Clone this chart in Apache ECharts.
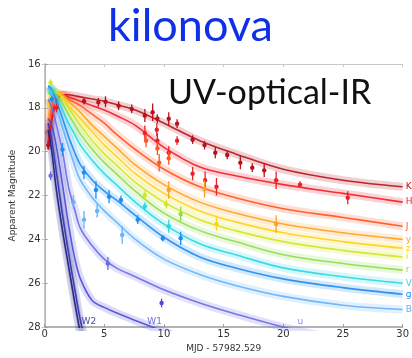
<!DOCTYPE html>
<html>
<head>
<meta charset="utf-8">
<script src="https://cdn.jsdelivr.net/npm/echarts@6/dist/echarts.min.js"></script>
<style>
  html, body { margin: 0; padding: 0; background: #fff; }
  #chart { width: 412px; height: 358px; }
</style>
</head>
<body>
<div id="chart"></div>
<script>
// days since merger (MJD - 57982.529)
const days = [0.3, 0.6, 1, 1.5, 2, 2.5, 3, 4, 5, 6, 7.6, 10, 13, 16, 20, 25, 30];

// model light curves, apparent magnitude per band
const magK  = [19.9, 18.6, 17.7, 17.4, 17.4, 17.45, 17.5, 17.6, 17.7, 17.85, 18.1, 18.7, 19.5, 20.1, 20.8, 21.3, 21.6];
const magH  = [19.6, 18.4, 17.6, 17.4, 17.5, 17.6, 17.7, 17.9, 18.1, 18.35, 18.8, 19.8, 20.7, 21.1, 21.5, 21.9, 22.3];
const magJ  = [19.2, 18.0, 17.4, 17.4, 17.6, 17.75, 17.9, 18.3, 18.7, 19.2, 19.9, 20.8, 21.6, 22.1, 22.6, 23.0, 23.4];
const magY  = [18.6, 17.6, 17.3, 17.4, 17.7, 17.95, 18.2, 18.8, 19.3, 19.8, 20.6, 21.5, 22.3, 22.8, 23.3, 23.7, 24.0];
const magZ  = [18.0, 17.3, 17.3, 17.5, 17.9, 18.2, 18.5, 19.1, 19.7, 20.2, 21.0, 21.9, 22.7, 23.2, 23.7, 24.1, 24.4];
const magI  = [17.4, 17.2, 17.3, 17.6, 18.0, 18.4, 18.8, 19.5, 20.1, 20.6, 21.4, 22.3, 23.1, 23.6, 24.1, 24.5, 24.8];
const magR  = [17.1, 17.1, 17.4, 17.8, 18.3, 18.75, 19.2, 19.9, 20.5, 21.0, 21.8, 22.8, 23.6, 24.1, 24.7, 25.1, 25.4];
const magV  = [17.0, 17.1, 17.5, 18.1, 18.7, 19.2, 19.7, 20.4, 21.0, 21.5, 22.3, 23.3, 24.2, 24.7, 25.3, 25.7, 26.0];
const magG  = [17.0, 17.2, 17.7, 18.5, 19.3, 20.0, 20.6, 21.3, 21.8, 22.2, 22.9, 23.9, 24.8, 25.3, 25.8, 26.2, 26.5];
const magB  = [17.1, 17.4, 18.0, 18.9, 19.8, 20.6, 21.3, 22.1, 22.7, 23.2, 24.0, 24.9, 25.6, 26.1, 26.6, 27.0, 27.2];
const magU  = [17.6, 18.0, 18.8, 20.0, 21.6, 22.6, 23.5, 24.3, 24.9, 25.3, 25.7, 26.3, 26.9, 27.4, 28.0, 28.6, 29.2];
const magW1 = [18.5, 18.8, 19.8, 21.5, 23.3, 24.8, 25.8, 26.8, 27.1, 27.35, 27.7, 28.2, 28.8, 29.3, null, null, null];
const magM2 = [18.7, 19.5, 21.0, 22.9, 24.6, 26.2, 27.7, 30.0, null, null, null, null, null, null, null, null, null];
const magW2 = [19.0, 20.0, 21.8, 23.6, 25.2, 26.8, 28.3, 31.0, null, null, null, null, null, null, null, null, null];

const bandNames  = ['K', 'H', 'J', 'y', 'z', 'i', 'r', 'V', 'g', 'B', 'u', 'W1', 'M2', 'W2'];
const bandColors = ['#b8121c', '#ee1f28', '#ff5520', '#ffa024', '#ffd01c', '#d2e624', '#8fdc4c',
                    '#2ed6e2', '#1e8cf0', '#64b2f8', '#6a6ae8', '#4a4ad6', '#3232b0', '#1c1c7e'];
const bandMags   = [magK, magH, magJ, magY, magZ, magI, magR, magV, magG, magB, magU, magW1, magM2, magW2];

// observed photometry: day, magnitude, error, band index
const obsDays = [0.3, 3.3, 4.5, 5.1, 6.2, 7.3, 8.4, 9.05, 9.45, 10.4, 11.1, 12.4, 13.4, 14.3, 15.3, 16.4, 17.4, 18.4,
                 1.0, 8.4, 9.4, 9.45, 10.4, 11.1, 12.4, 13.45, 14.4, 19.4, 21.4, 25.4,
                 8.5, 9.45, 9.6, 10.4,
                 10.4, 13.4, 19.4,
                 14.4, 0.5, 8.4, 10.2, 11.4,
                 0.5, 8.4, 10.4,
                 0.6, 1.5, 3.3, 4.3, 5.4, 6.4, 7.8, 9.9, 11.4,
                 2.4, 3.3, 4.4, 6.5,
                 0.5, 5.3, 9.8];
const obsMags = [19.7, 17.7, 17.75, 17.72, 17.9, 18.05, 18.35, 18.2, 18.5, 18.5, 18.72, 19.45, 19.7, 20.05, 20.15, 20.5, 20.73, 20.85,
                 18.0, 19.15, 19.0, 19.5, 20.05, 19.5, 21.0, 21.3, 21.6, 21.3, 21.5, 22.1,
                 19.5, 19.85, 20.5, 20.3,
                 21.75, 21.7, 23.3,
                 23.3, 16.85, 21.98, 22.4, 22.85,
                 17.3, 22.5, 23.4,
                 17.6, 19.9, 20.95, 21.75, 22.05, 22.2, 23.1, 23.95, 23.95,
                 22.3, 23.1, 22.7, 23.8,
                 21.1, 25.1, 26.9];
const obsErrs = [0.2, 0.15, 0.2, 0.25, 0.2, 0.2, 0.3, 0.4, 0.2, 0.3, 0.2, 0.2, 0.2, 0.25, 0.2, 0.3, 0.2, 0.3,
                 0.2, 0.35, 0.3, 0.35, 0.3, 0.2, 0.3, 0.4, 0.4, 0.4, 0.15, 0.3,
                 0.3, 0.3, 0.4, 0.3,
                 0.4, 0.4, 0.4,
                 0.3, 0.15, 0.2, 0.2, 0.35,
                 0.15, 0.2, 0.3,
                 0.15, 0.3, 0.3, 0.4, 0.3, 0.2, 0.2, 0.15, 0.3,
                 0.3, 0.4, 0.3, 0.4,
                 0.2, 0.3, 0.2];
const obsBand = [0, 0, 0, 0, 0, 0, 0, 0, 0, 0, 0, 0, 0, 0, 0, 0, 0, 0,
                 1, 1, 1, 1, 1, 1, 1, 1, 1, 1, 1, 1,
                 2, 2, 2, 2,
                 3, 3, 3,
                 4, 5, 5, 5, 6,
                 7, 7, 7,
                 8, 8, 8, 8, 8, 8, 8, 8, 8,
                 9, 9, 9, 9,
                 10, 10, 11];

// filter tags written at the bottom of the plot
const tagNames = ['W2', 'W1', 'u'];
const tagDays  = [3.1, 8.6, 21.2];
const tagMags  = [27.75, 27.75, 27.75];
const tagBand  = [13, 11, 10];

const chart = echarts.init(document.getElementById('chart'));

const series = [];
bandNames.forEach((name, b) => {
  const pts = days.map((d, i) => [d, bandMags[b][i]]);
  // model spread
  series.push({
    type: 'line', data: pts, smooth: 0.35, symbol: 'none',
    silent: true, z: 2,
    lineStyle: { color: bandColors[b], width: 8, opacity: 0.2 }
  });
  // best model
  series.push({
    name: name, type: 'line', data: pts, smooth: 0.35, symbol: 'none',
    silent: true, z: 3,
    lineStyle: { color: bandColors[b], width: 1.6, opacity: 0.9 },
    endLabel: b < 10 ? {
      show: true, formatter: name, color: bandColors[b], fontSize: 9,
      fontFamily: 'DejaVu Sans', distance: 3
    } : { show: false }
  });
});

// error bars + dots
series.push({
  type: 'custom', clip: true, z: 5,
  data: obsDays.map((d, i) => [d, obsMags[i], obsErrs[i], obsBand[i]]),
  renderItem: function (params, api) {
    const d = api.value(0), m = api.value(1), e = api.value(2);
    const col = bandColors[api.value(3)];
    const top = api.coord([d, m - e]);
    const bot = api.coord([d, m + e]);
    const c = api.coord([d, m]);
    return {
      type: 'group',
      children: [
        { type: 'line', shape: { x1: top[0], y1: top[1], x2: bot[0], y2: bot[1] },
          style: { stroke: col, lineWidth: 1.3 } },
        { type: 'circle', shape: { cx: c[0], cy: c[1], r: 2.2 }, style: { fill: col } }
      ]
    };
  }
});

series.push({
  type: 'scatter', symbolSize: 0, z: 6, silent: true,
  data: tagDays.map((d, i) => ({
    value: [d, tagMags[i]],
    label: { color: bandColors[tagBand[i]] }
  })),
  label: {
    show: true, position: 'right', distance: 0,
    fontSize: 9, fontFamily: 'DejaVu Sans',
    formatter: p => tagNames[p.dataIndex]
  }
});

const axisGrey = '#9a9a9a';
const option = {
  animation: false,
  grid: { left: 37, right: 7, top: 64, bottom: 25 },
  graphic: [
    { type: 'text', left: 108, top: 4,
      style: { text: 'kilonova', fill: '#1030e8', font: '45px Lato' } },
    { type: 'text', left: 168, top: 76, z: 10,
      style: { text: 'UV-optical-IR', fill: '#111', font: '34px Lato' } }
  ],
  xAxis: [
    {
      type: 'value', min: 0, max: 30, interval: 5,
      name: 'MJD - 57982.529', nameLocation: 'middle', nameGap: 15,
      nameTextStyle: { fontSize: 9, color: '#333', fontFamily: 'DejaVu Sans' },
      axisLine: { lineStyle: { color: axisGrey, width: 1.5 } },
      axisTick: { inside: true, length: 3, lineStyle: { color: axisGrey } },
      axisLabel: { fontSize: 10, color: '#333', margin: 2, fontFamily: 'DejaVu Sans' },
      splitLine: { show: false }
    },
    {
      type: 'value', min: 0, max: 30, interval: 5, position: 'top',
      axisLine: { show: true, lineStyle: { color: '#c8c8c8' } },
      axisTick: { inside: true, length: 3, lineStyle: { color: '#c8c8c8' } },
      axisLabel: { show: false }, splitLine: { show: false }
    }
  ],
  yAxis: [
    {
      type: 'value', min: 16, max: 28, interval: 2, inverse: true,
      name: 'Apparent Magnitude', nameLocation: 'middle', nameGap: 21,
      nameTextStyle: { fontSize: 9, color: '#333', fontFamily: 'DejaVu Sans' },
      axisLine: { show: true, lineStyle: { color: axisGrey, width: 1.5 } },
      axisTick: { show: true, inside: true, length: 3, lineStyle: { color: axisGrey } },
      axisLabel: { fontSize: 10, color: '#333', margin: 4, fontFamily: 'DejaVu Sans' },
      splitLine: { show: false }
    },
    {
      type: 'value', min: 16, max: 28, interval: 2, inverse: true, position: 'right',
      axisLine: { show: true, lineStyle: { color: '#c8c8c8' } },
      axisTick: { show: true, inside: true, length: 3, lineStyle: { color: '#c8c8c8' } },
      axisLabel: { show: false }, splitLine: { show: false }
    }
  ],
  series: series
};

chart.setOption(option);
</script>
</body>
</html>
